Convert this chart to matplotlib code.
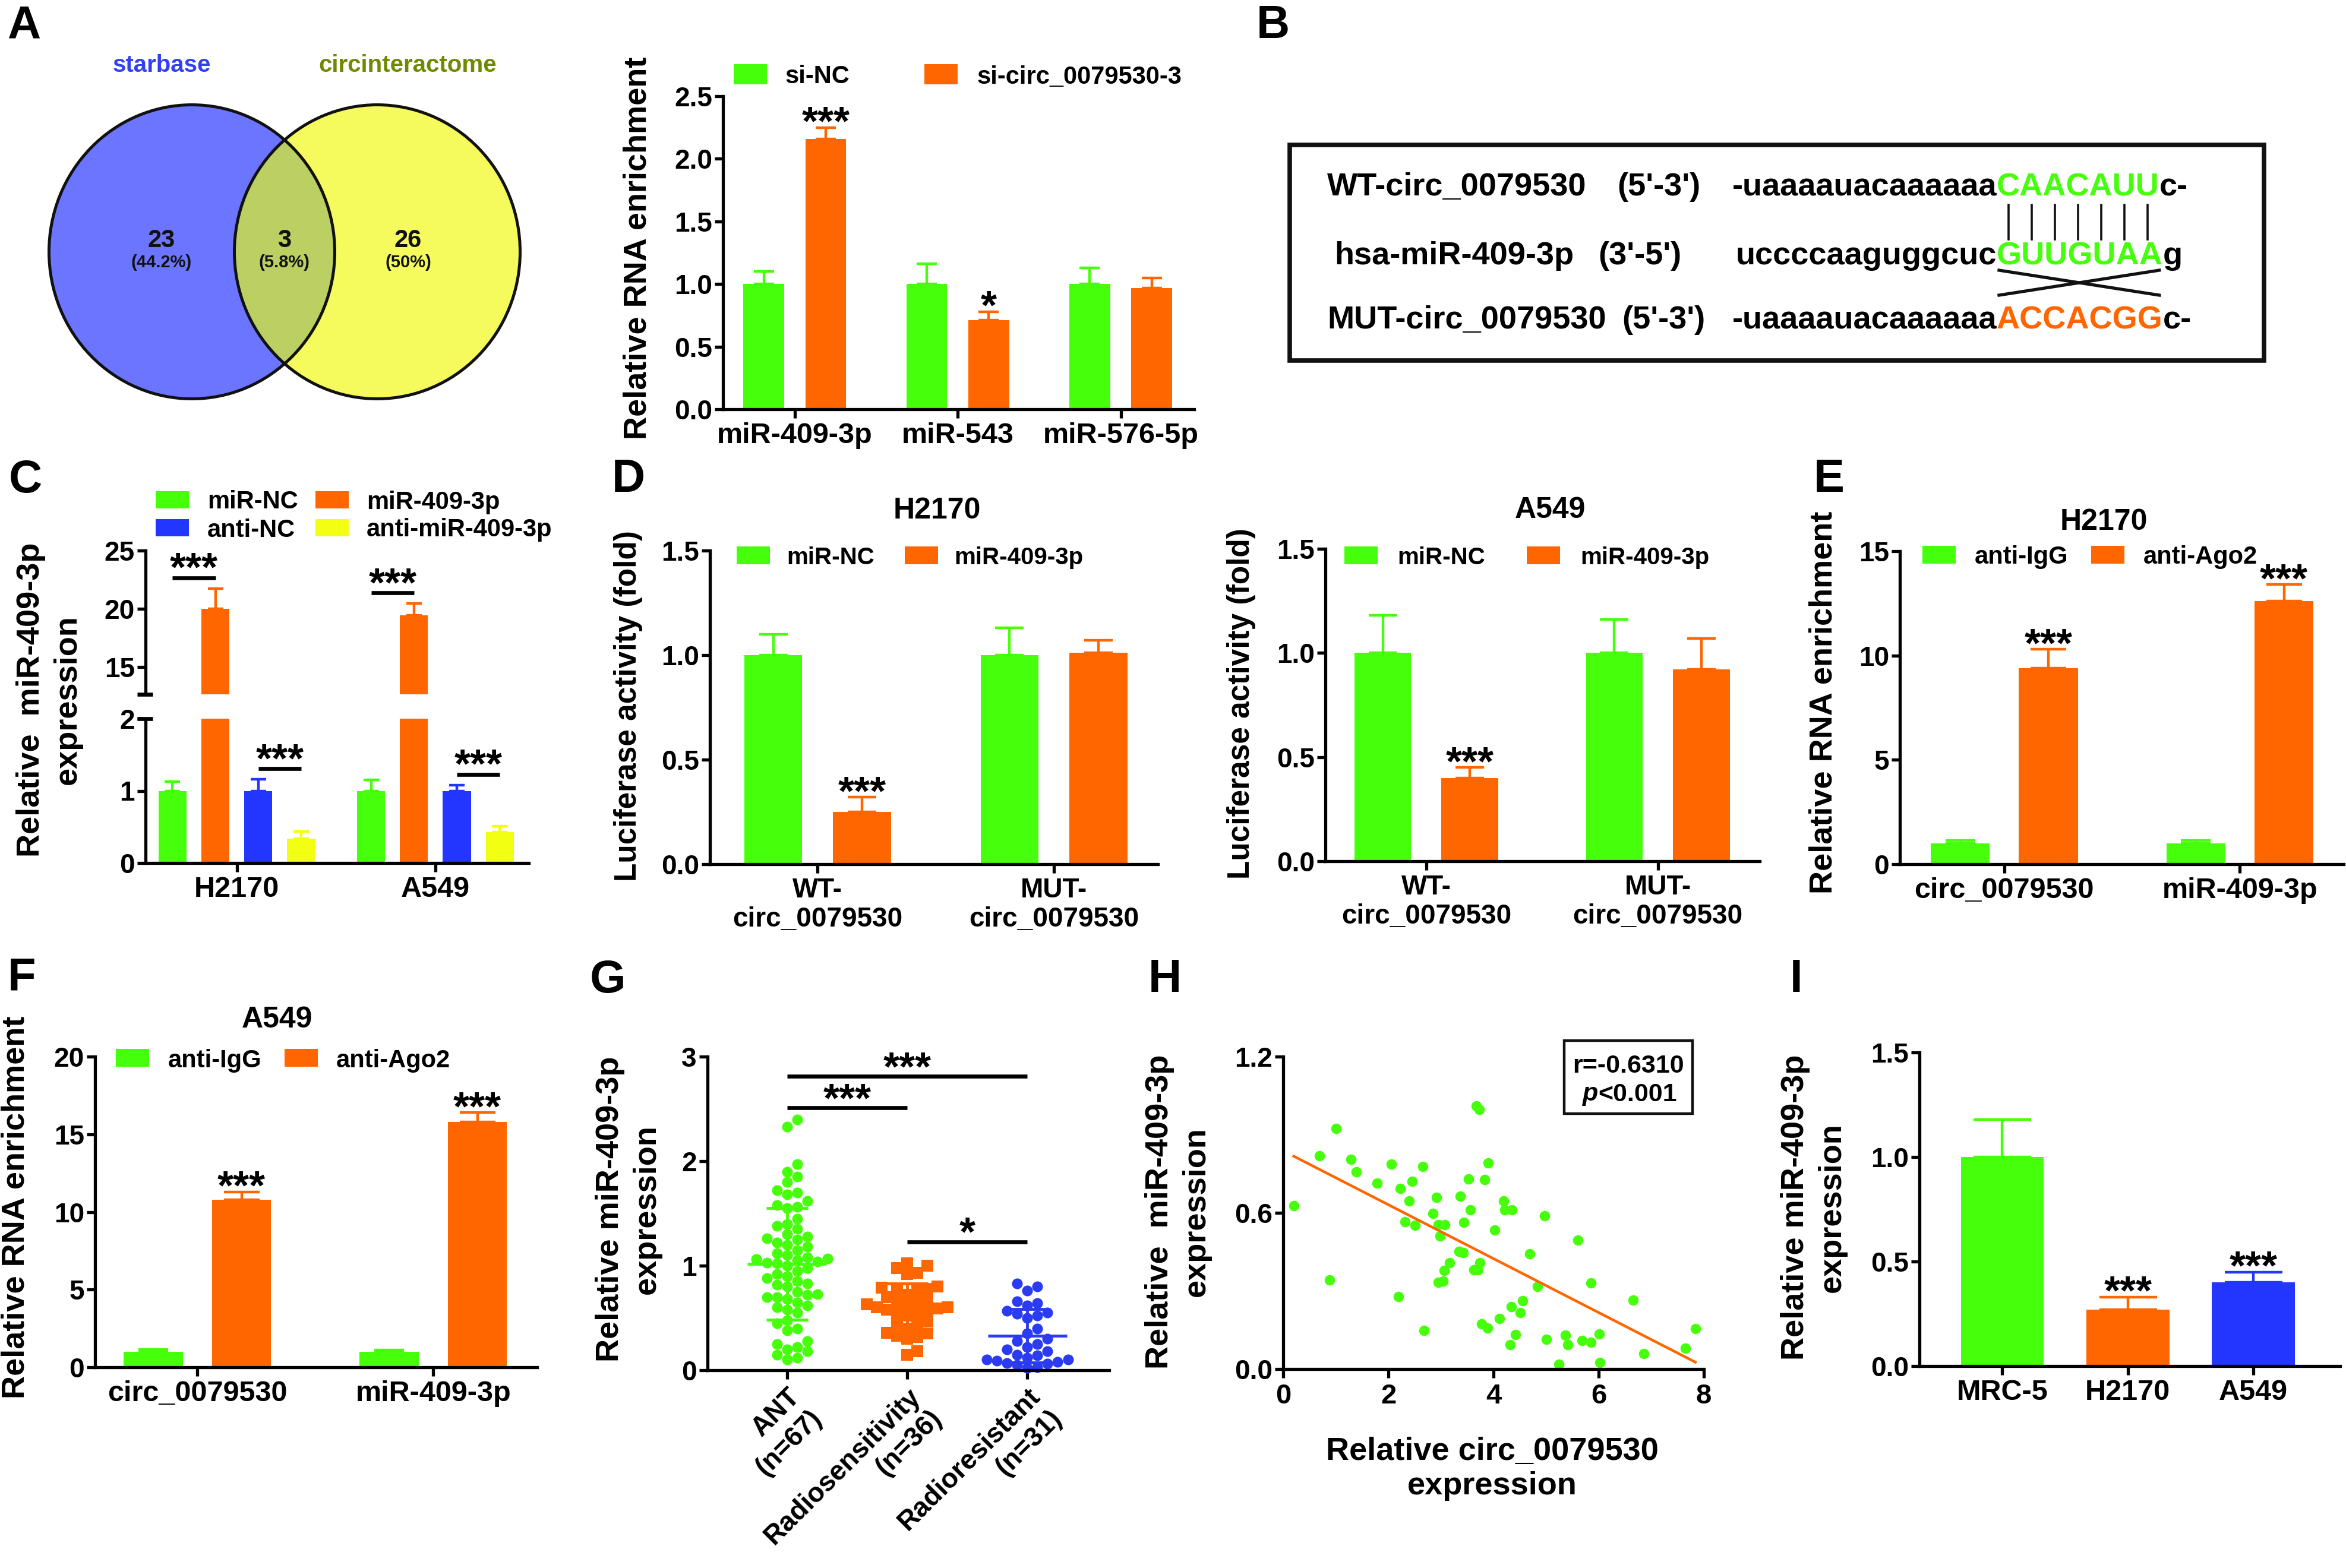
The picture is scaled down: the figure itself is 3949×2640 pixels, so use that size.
import numpy as np
import matplotlib
matplotlib.use('Agg')
import matplotlib.pyplot as plt
from matplotlib.patches import Ellipse, Rectangle

W, H = 3949, 2640
DPI = 100
plt.rcParams['font.family'] = ['Liberation Sans', 'DejaVu Sans']
plt.rcParams['font.weight'] = 'bold'
plt.rcParams['axes.labelweight'] = 'bold'
plt.rcParams['axes.titleweight'] = 'bold'

GREEN = '#46FF0A'
ORANGE = '#FF6600'
BLUE = '#2236FF'
YELLOW = '#F2FF12'
LW = 3.8

# ---------------- data ----------------
venn_sets = ['starbase', 'circinteractome']
venn_counts = [23, 3, 26]
venn_pcts = ['(44.2%)', '(5.8%)', '(50%)']

a_cats = ['miR-409-3p', 'miR-543', 'miR-576-5p']
a_sinc = [1.0, 1.0, 1.0]
a_sinc_err = [0.10, 0.16, 0.13]
a_sicirc = [2.16, 0.71, 0.97]
a_sicirc_err = [0.09, 0.07, 0.08]
a_sig = ['***', '*', '']

c_cats = ['H2170', 'A549']
c_groups = ['miR-NC', 'miR-409-3p', 'anti-NC', 'anti-miR-409-3p']
c_vals = [[1.0, 1.0], [20.0, 19.45], [1.0, 1.0], [0.34, 0.43]]
c_errs = [[0.13, 0.15], [1.75, 1.0], [0.16, 0.08], [0.10, 0.08]]

d_cats = ['WT-\ncirc_0079530', 'MUT-\ncirc_0079530']
d_h_nc = [1.0, 1.0]
d_h_nc_err = [0.10, 0.13]
d_h_mir = [0.25, 1.01]
d_h_mir_err = [0.07, 0.06]
d_a_nc = [1.0, 1.0]
d_a_nc_err = [0.18, 0.16]
d_a_mir = [0.40, 0.92]
d_a_mir_err = [0.05, 0.15]

ef_cats = ['circ_0079530', 'miR-409-3p']
e_igg = [1.0, 1.0]
e_igg_err = [0.15, 0.15]
e_ago2 = [9.4, 12.6]
e_ago2_err = [0.9, 0.8]
f_igg = [1.0, 1.0]
f_igg_err = [0.15, 0.12]
f_ago2 = [10.8, 15.8]
f_ago2_err = [0.5, 0.6]

g_cats = ['ANT\n(n=67)', 'Radiosensitivity\n(n=36)', 'Radioresistant\n(n=31)']
g_ant = [2.40, 2.33, 1.97, 1.90, 1.85, 1.80, 1.72, 1.70, 1.68, 1.62, 1.58, 1.56,
         1.55, 1.45, 1.40, 1.38, 1.35, 1.30, 1.28, 1.26, 1.25, 1.22, 1.20, 1.18,
         1.15, 1.12, 1.10, 1.08, 1.07, 1.06, 1.05, 1.04, 1.03, 1.02, 1.00, 0.98,
         0.95, 0.92, 0.90, 0.88, 0.85, 0.83, 0.82, 0.80, 0.75, 0.73, 0.72, 0.70,
         0.70, 0.68, 0.65, 0.62, 0.60, 0.58, 0.55, 0.48, 0.45, 0.40, 0.38, 0.28,
         0.25, 0.22, 0.20, 0.18, 0.15, 0.12, 0.10]
g_sens = [1.02, 1.00, 0.98, 0.93, 0.92, 0.80, 0.79, 0.78, 0.77, 0.76, 0.72, 0.70,
          0.68, 0.66, 0.65, 0.63, 0.62, 0.60, 0.60, 0.59, 0.58, 0.57, 0.56, 0.55,
          0.52, 0.47, 0.45, 0.44, 0.40, 0.36, 0.35, 0.33, 0.32, 0.30, 0.18, 0.15]
g_res = [0.83, 0.80, 0.76, 0.66, 0.64, 0.62, 0.57, 0.55, 0.54, 0.52, 0.50, 0.40,
         0.35, 0.30, 0.28, 0.25, 0.22, 0.20, 0.18, 0.15, 0.14, 0.12, 0.10, 0.10,
         0.09, 0.08, 0.07, 0.06, 0.05, 0.03, 0.02]
g_sig = [('***', 0, 1), ('***', 0, 2), ('*', 1, 2)]

h_circ = [0.20, 0.69, 1.01, 0.88, 1.29, 1.39, 1.79, 2.06, 2.19, 2.23, 2.32, 2.40,
          2.45, 2.51, 2.65, 2.68, 2.85, 2.92, 2.95, 2.98, 3.07, 3.06, 2.95, 3.04,
          3.16, 3.34, 3.42, 3.37, 3.44, 3.53, 3.56, 3.63, 3.71, 3.74, 3.67, 3.73,
          3.83, 3.90, 3.77, 3.89, 4.02, 4.11, 4.19, 4.21, 4.35, 4.34, 4.32, 4.42,
          4.55, 4.51, 4.69, 4.84, 4.97, 5.01, 5.24, 5.37, 5.41, 5.61, 5.68, 5.85,
          5.85, 6.01, 6.02, 6.65, 6.86, 7.65, 7.84]
h_mir = [0.627, 0.818, 0.923, 0.342, 0.805, 0.757, 0.713, 0.786, 0.278, 0.694,
         0.566, 0.646, 0.722, 0.552, 0.779, 0.149, 0.598, 0.660, 0.555, 0.510,
         0.555, 0.379, 0.333, 0.338, 0.409, 0.452, 0.447, 0.663, 0.564, 0.729,
         0.611, 0.380, 0.380, 0.409, 1.010, 0.996, 0.727, 0.791, 0.173, 0.157,
         0.534, 0.193, 0.645, 0.611, 0.611, 0.239, 0.094, 0.132, 0.262, 0.216,
         0.443, 0.318, 0.589, 0.113, 0.018, 0.129, 0.094, 0.496, 0.110, 0.102,
         0.330, 0.135, 0.026, 0.265, 0.059, 0.079, 0.155]
h_r = '-0.6310'
h_p = '0.001'

i_cats = ['MRC-5', 'H2170', 'A549']
i_vals = [1.0, 0.27, 0.40]
i_errs = [0.18, 0.06, 0.05]
i_sig = ['', '***', '***']

# ---------------- helpers ----------------
fig = plt.figure(figsize=(W / DPI, H / DPI), dpi=DPI)
fig.patch.set_facecolor('white')


def px_axes(box):
    L, T, R, B = box
    return fig.add_axes([L / W, 1 - B / H, (R - L) / W, (B - T) / H])


def frac(box, x, y):
    L, T, R, B = box
    return ((x - L) / (R - L), (B - y) / (B - T))


def style(ax, yticks, yfmt, ysize=33, xsize=35, xpad=5):
    ax.spines['top'].set_visible(False)
    ax.spines['right'].set_visible(False)
    for s in ('left', 'bottom'):
        ax.spines[s].set_linewidth(LW)
        ax.spines[s].set_capstyle('projecting')
    ax.set_yticks(yticks)
    ax.set_yticklabels([yfmt.format(v) for v in yticks])
    ax.tick_params(axis='y', direction='out', length=10, width=LW,
                   labelsize=ysize, pad=3)
    ax.tick_params(axis='x', direction='out', length=11, width=LW,
                   labelsize=xsize, pad=xpad)
    ax.patch.set_visible(False)


def bars(ax, x, vals, errs, color, width, cap_px):
    ax.bar(x, vals, width, color=color, zorder=1.5, linewidth=0)
    ax.errorbar(x, vals, yerr=[np.zeros(len(vals)), errs], fmt='none',
                ecolor=color, elinewidth=3.2, capsize=cap_px * 0.36,
                capthick=3.2, zorder=2)


def star(ax, x, y, s, dy=-12, fs=50):
    ax.annotate(s, (x, y), xytext=(0, dy), textcoords='offset pixels',
                ha='center', va='baseline', fontsize=fs, annotation_clip=False)


def ylabel(ax, box, text, x, y, fs=39, ls=1.3):
    ax.set_ylabel(text, fontsize=fs, va='center', linespacing=ls)
    ax.yaxis.set_label_coords(*frac(box, x, y))


def title(ax, box, text, x, y, fs=36):
    fx, fy = frac(box, x, y)
    ax.set_title(text, fontsize=fs, x=fx, y=fy, va='center', pad=0)


# ---------------- Panel A (bar) ----------------
boxA = (1217, 162, 2010, 689)
axA = px_axes(boxA)
xA = np.arange(len(a_cats))
bars(axA, xA - 0.19, a_sinc, a_sinc_err, GREEN, 0.25, 34)
bars(axA, xA + 0.19, a_sicirc, a_sicirc_err, ORANGE, 0.25, 34)
axA.set_xlim(-0.44, 2.45)
axA.set_ylim(0, 2.5)
style(axA, [0, 0.5, 1.0, 1.5, 2.0, 2.5], '{:.1f}')
axA.set_xticks(xA)
axA.set_xticklabels(a_cats)
for xi, v, e, s in zip(xA + 0.19, a_sicirc, a_sicirc_err, a_sig):
    if s:
        star(axA, xi, v + e, s)
ylabel(axA, boxA, 'Relative RNA enrichment', 1074, 418)

# ---------------- Panel C (broken axis) ----------------
boxCu = (245, 927, 890, 1169)
boxCl = (245, 1210, 890, 1453)
axCu = px_axes(boxCu)
axCl = px_axes(boxCl)
c_colors = [GREEN, ORANGE, BLUE, YELLOW]
pitch = 0.216
c_offs = [(k - 1.5) * pitch for k in range(4)]
xC = np.arange(len(c_cats))
for ax in (axCu, axCl):
    for k in range(4):
        bars(ax, xC + c_offs[k], c_vals[k], c_errs[k], c_colors[k], 0.141, 26)
    ax.set_xlim(-0.46, 1.47)
axCu.set_ylim(12.65, 25)
axCl.set_ylim(0, 2)
style(axCu, [15, 20, 25], '{:d}')
style(axCl, [0, 1, 2], '{:d}')
axCu.spines['bottom'].set_visible(False)
axCu.set_xticks([])
axCl.set_xticks(xC)
axCl.set_xticklabels(c_cats)
for ax, yy in ((axCu, 0), (axCl, 1)):
    ax.plot([-0.022, 0.018], [yy, yy], transform=ax.transAxes, color='k',
            lw=LW + 1, clip_on=False, solid_capstyle='butt')
# significance
up_px = (1169 - 927) / (25 - 12.65)
lo_px = (1453 - 1210) / 2.0
for j in range(2):
    top = c_vals[1][j] + c_errs[1][j] + 18 / up_px
    axCu.plot([xC[j] + c_offs[0], xC[j] + c_offs[1]], [top, top], color='k',
              lw=LW + 1, solid_capstyle='butt', clip_on=False)
    star(axCu, xC[j] + (c_offs[0] + c_offs[1]) / 2, top, '***', dy=-5)
    top2 = max(c_vals[2][j] + c_errs[2][j], c_vals[3][j] + c_errs[3][j]) + 18 / lo_px
    axCl.plot([xC[j] + c_offs[2], xC[j] + c_offs[3]], [top2, top2], color='k',
              lw=LW + 1, solid_capstyle='butt', clip_on=False)
    star(axCl, xC[j] + (c_offs[2] + c_offs[3]) / 2, top2, '***', dy=-5)
ylabel(axCl, boxCl, 'Relative  miR-409-3p\nexpression', 83, 1178, fs=39)

# ---------------- Panel D ----------------
boxD1 = (1195, 927, 1949, 1455)
boxD2 = (2231, 924, 2962, 1450)
xD = np.arange(len(d_cats))
for box, nc, nce, mir, mire, tt, xl in (
        (boxD1, d_h_nc, d_h_nc_err, d_h_mir, d_h_mir_err, 'H2170', -0.456),
        (boxD2, d_a_nc, d_a_nc_err, d_a_mir, d_a_mir_err, 'A549', -0.436)):
    ax = px_axes(box)
    bars(ax, xD - 0.188, nc, nce, GREEN, 0.245, 48)
    bars(ax, xD + 0.188, mir, mire, ORANGE, 0.245, 48)
    ax.set_xlim(xl, 1.44)
    ax.set_ylim(0, 1.5)
    style(ax, [0, 0.5, 1.0, 1.5], '{:.1f}', xsize=33)
    ax.set_xticks(xD)
    ax.set_xticklabels(d_cats, linespacing=1.15)
    star(ax, xD[0] + 0.188, mir[0] + mire[0], '***')
    if tt == 'H2170':
        ylabel(ax, box, 'Luciferase activity (fold)', 1058, 1189, fs=37)
        title(ax, box, tt, 1577, 860)
    else:
        ylabel(ax, box, 'Luciferase activity (fold)', 2090, 1185, fs=37)
        title(ax, box, tt, 2609, 859)

# ---------------- Panel E / F ----------------
boxE = (3198, 928, 3945, 1455)
boxF = (160, 1779, 904, 2302)
xE = np.arange(len(ef_cats))
for box, igg, igge, ago, agoe, tt, ylim, yt, xl, lab, tpos in (
        (boxE, e_igg, e_igg_err, e_ago2, e_ago2_err, 'H2170', 15, [0, 5, 10, 15],
         -0.443, (3070, 1183), (3541, 879)),
        (boxF, f_igg, f_igg_err, f_ago2, f_ago2_err, 'A549', 20, [0, 5, 10, 15, 20],
         -0.434, (27, 2033), (466, 1717))):
    ax = px_axes(box)
    bars(ax, xE - 0.187, igg, igge, GREEN, 0.25, 50)
    bars(ax, xE + 0.187, ago, agoe, ORANGE, 0.25, 60)
    ax.set_xlim(xl, 1.44)
    ax.set_ylim(0, ylim)
    style(ax, yt, '{:d}')
    ax.set_xticks(xE)
    ax.set_xticklabels(ef_cats)
    for xi, v, e in zip(xE + 0.187, ago, agoe):
        star(ax, xi, v + e, '***')
    ylabel(ax, box, 'Relative RNA enrichment', *lab)
    title(ax, box, tt, *tpos)

# ---------------- Panel G ----------------
boxG = (1191, 1779, 1867, 2307)
axG = px_axes(boxG)
gx_px = 202.0
gy_px = 176.0


def swarm(vals, d=17.0):
    vals = np.asarray(vals)
    placed = []
    offs = np.zeros(len(vals))
    cands = [0.0] + [s * j * d * 0.5 for j in range(1, 60) for s in (1, -1)]
    for i in np.argsort(vals):
        y = vals[i] * gy_px
        for c in cands:
            if all((c - px) ** 2 + (y - py) ** 2 >= d * d for px, py in placed):
                break
        placed.append((c, y))
        offs[i] = c / gx_px
    return offs


g_sets = [g_ant, g_sens, g_res]
g_colors = [GREEN, ORANGE, '#2B3BF2']
g_markers = ['o', 's', 'o']
for k, (vals, col, mk) in enumerate(zip(g_sets, g_colors, g_markers)):
    vals = np.asarray(vals)
    xs = k + swarm(vals)
    axG.scatter(xs, vals, s=170 if mk == 'o' else 190, color=col, marker=mk,
                linewidths=0, zorder=2, clip_on=False)
    m = vals.mean()
    sd = vals.std(ddof=1)
    axG.hlines(m, k - 0.33, k + 0.33, color=col, lw=3.5, zorder=3)
    axG.errorbar([k], [m], yerr=[[sd], [sd]], fmt='none', ecolor=col,
                 elinewidth=3.5, capsize=25, capthick=3.5, zorder=3)
axG.set_xlim(-0.66, 2.68)
axG.set_ylim(0, 3)
style(axG, [0, 1, 2, 3], '{:d}')
axG.set_xticks(range(3))
axG.set_xticklabels(g_cats)
for t in axG.get_xticklabels():
    t.set_rotation(45)
    t.set_ha('right')
    t.set_va('top')
    t.set_rotation_mode('anchor')
    t.set_multialignment('right')
    t.set_fontsize(33)
# significance lines
mx = [max(v) for v in g_sets]
lvl_a = mx[0] + 0.11
lvl_b = lvl_a + 0.30
lvl_c = max(mx[1], mx[2]) + 0.21
for (s, i0, i1), lvl in zip(g_sig, (lvl_a, lvl_b, lvl_c)):
    axG.plot([i0, i1], [lvl, lvl], color='k', lw=LW + 1, solid_capstyle='butt',
             clip_on=False)
    star(axG, (i0 + i1) / 2, lvl, s, dy=-6)
ylabel(axG, boxG, 'Relative miR-409-3p\nexpression', 1058, 2036)

# ---------------- Panel H ----------------
boxH = (2160, 1779, 2868, 2305)
axH = px_axes(boxH)
hx = np.asarray(h_circ)
hy = np.asarray(h_mir)
axH.scatter(hx, hy, s=160, color=GREEN, linewidths=0, zorder=2)
slope, icpt = np.polyfit(hx, hy, 1)
xx = np.array([hx.min(), hx.max()])
axH.plot(xx, slope * xx + icpt, color=ORANGE, lw=3.2, zorder=3)
axH.set_xlim(0, 8)
axH.set_ylim(0, 1.2)
style(axH, [0.0, 0.6, 1.2], '{:.1f}')
axH.set_xticks([0, 2, 4, 6, 8])
axH.set_xticklabels(['0', '2', '4', '6', '8'])
axH.tick_params(axis='x', labelsize=34, pad=6)
axH.set_xlabel('Relative circ_0079530\nexpression', fontsize=39, va='center',
               linespacing=1.2)
axH.xaxis.set_label_coords(*frac(boxH, 2512, 2473))
ylabel(axH, boxH, 'Relative  miR-409-3p\nexpression', 1983, 2040)

# ---------------- Panel I ----------------
boxI = (3231, 1772, 3939, 2300)
axI = px_axes(boxI)
xI = np.arange(len(i_cats))
i_colors = [GREEN, ORANGE, BLUE]
for k in range(3):
    bars(axI, [xI[k]], [i_vals[k]], [i_errs[k]], i_colors[k], 0.66, 97)
    if i_sig[k]:
        star(axI, xI[k], i_vals[k] + i_errs[k], i_sig[k])
axI.set_xlim(-0.66, 2.69)
axI.set_ylim(0, 1.5)
style(axI, [0, 0.5, 1.0, 1.5], '{:.1f}')
axI.set_xticks(xI)
axI.set_xticklabels(i_cats)
ylabel(axI, boxI, 'Relative miR-409-3p\nexpression', 3053, 2033)

# ---------------- overlay: venn, sequence box, legends, letters ----------------
ov = fig.add_axes([0, 0, 1, 1])
ov.set_xlim(0, W)
ov.set_ylim(H, 0)
ov.axis('off')

# Venn
eL = Ellipse((323, 424), 481, 495, facecolor='#6B75FF', edgecolor='none')
eR = Ellipse((635, 424), 481, 495, facecolor='#F5FB5C', edgecolor='none')
ov.add_patch(eL)
ov.add_patch(eR)
eI = Ellipse((323, 424), 481, 495, facecolor='#BBCF63', edgecolor='none')
ov.add_patch(eI)
eI.set_clip_path(eR)
for cx in (323, 635):
    ov.add_patch(Ellipse((cx, 424), 481, 495, fill=False, edgecolor='#111111', lw=3.6))
ov.text(272, 110, venn_sets[0], color='#3340F2', fontsize=29, ha='center', va='center')
ov.text(686, 110, venn_sets[1], color='#6E8A00', fontsize=29, ha='center', va='center')
for cx, n, p in zip((272, 479, 687), venn_counts, venn_pcts):
    ov.text(cx, 405, str(n), fontsize=30, ha='center', va='center', color='#111111')
    ov.text(cx, 442, p, fontsize=21, ha='center', va='center', color='#111111')

# Panel B sequence box
ov.add_patch(Rectangle((2171, 244), 3811 - 2171, 607 - 244, fill=False,
                       edgecolor='#111111', lw=5.5))
fsB = 39
seg_x = 3361
rows = [
    (310, 'WT-circ_0079530', 2234, "(5'-3')", 2722, '-uaaaauacaaaaaa', 'CAACAUU', GREEN, 'c-'),
    (426, 'hsa-miR-409-3p', 2246, "(3'-5')", 2690, 'uccccaaguggcuc', 'GUUGUAA', GREEN, 'g'),
    (534, 'MUT-circ_0079530', 2234, "(5'-3')", 2730, '-uaaaauacaaaaaa', 'ACCACGG', ORANGE, 'c-'),
]
for y, lab, lx, ori, ox, pre, core, ccol, suf in rows:
    ov.text(lx, y, lab, fontsize=fsB, ha='left', va='center_baseline')
    ov.text(ox, y, ori, fontsize=fsB, ha='left', va='center_baseline')
    ov.text(seg_x, y, pre, fontsize=fsB, ha='right', va='center_baseline')
    tc = ov.text(seg_x, y, core, fontsize=fsB, ha='left', va='center_baseline', color=ccol)
    ov.annotate(suf, xy=(1, 0), xycoords=tc, ha='left', va='bottom', fontsize=fsB)
lp = 0.722 * fsB * DPI / 72.0
for i in range(7):
    xl = seg_x + (i + 0.5) * lp
    ov.plot([xl, xl], [345, 403], color='#111111', lw=2.6)
ov.plot([seg_x + 4, seg_x + 7 * lp], [455, 497], color='#111111', lw=3.8)
ov.plot([seg_x + 4, seg_x + 7 * lp], [497, 455], color='#111111', lw=3.8)

# H text box
ov.add_patch(Rectangle((2633, 1752), 216, 123, fill=False, edgecolor='#111111', lw=3.2))
ov.text(2741, 1790, 'r=' + h_r, fontsize=31, ha='center', va='center_baseline')
tp = ov.text(2664, 1838, 'p', fontsize=31, ha='left', va='center_baseline', style='italic')
ov.annotate('<' + h_p, xy=(1, 0), xycoords=tp, ha='left', va='bottom', fontsize=31)


# legends
def leg(x, y, w, h, color, label, tx, fs=30):
    ov.add_patch(Rectangle((x, y - h / 2), w, h, facecolor=color, edgecolor='none'))
    ov.text(tx, y, label, fontsize=fs, ha='left', va='center_baseline')


leg(1235, 125, 56, 34, GREEN, 'si-NC', 1322)
leg(1556, 125, 56, 34, ORANGE, 'si-circ_0079530-3', 1645)
leg(262, 841, 56, 29, GREEN, c_groups[0], 349)
leg(531, 841, 56, 29, ORANGE, c_groups[1], 617)
leg(262, 888, 56, 29, BLUE, c_groups[2], 349)
leg(531, 888, 56, 29, YELLOW, c_groups[3], 617)
leg(1240, 935, 56, 30, GREEN, 'miR-NC', 1324, fs=29)
leg(1523, 935, 56, 30, ORANGE, 'miR-409-3p', 1606, fs=29)
leg(2263, 935, 56, 30, GREEN, 'miR-NC', 2352, fs=29)
leg(2570, 935, 56, 30, ORANGE, 'miR-409-3p', 2660, fs=29)
leg(3236, 934, 56, 30, GREEN, 'anti-IgG', 3324)
leg(3520, 934, 56, 30, ORANGE, 'anti-Ago2', 3608)
leg(195, 1781, 56, 30, GREEN, 'anti-IgG', 283)
leg(479, 1781, 56, 30, ORANGE, 'anti-Ago2', 566)

# panel letters
for s, x, y in (('A', 40, 44), ('B', 2143, 44), ('C', 43, 809), ('D', 1058, 807),
                ('E', 3079, 807), ('F', 37, 1647), ('G', 1023, 1650),
                ('H', 1961, 1650), ('I', 3024, 1650)):
    ov.text(x, y, s, fontsize=56, ha='center', va='center')

fig.savefig('out.png', dpi=DPI, facecolor='white')
